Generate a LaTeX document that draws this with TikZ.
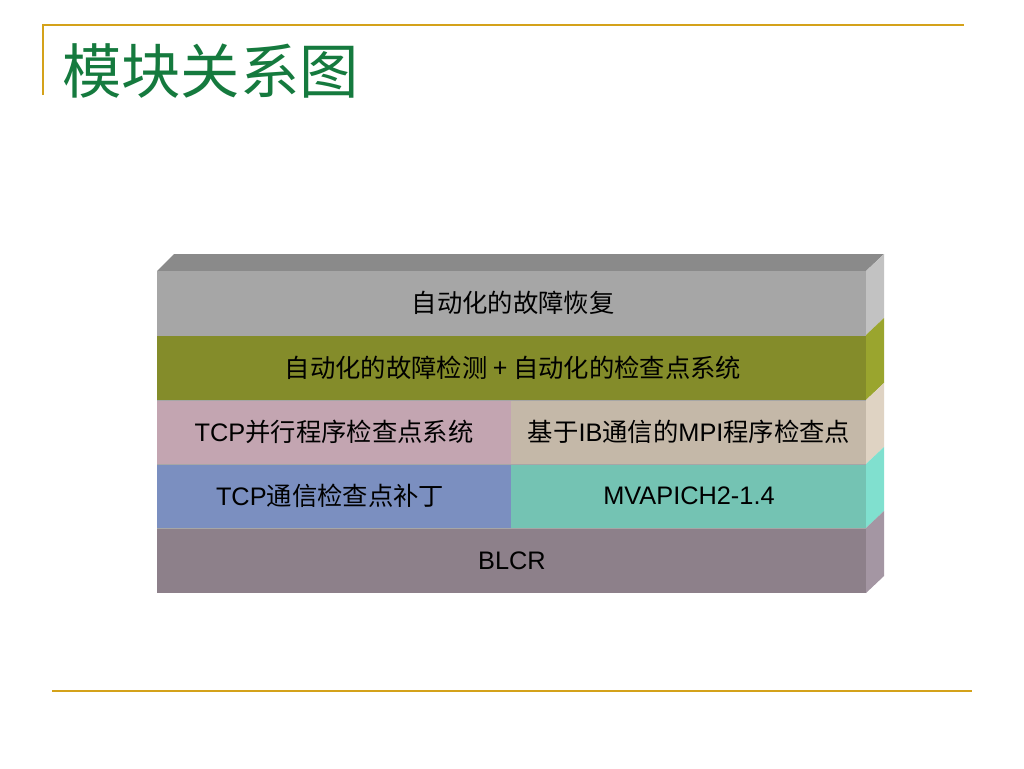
\documentclass[tikz,border=0pt]{standalone}
\usepackage{fontspec}
\setmainfont{Liberation Sans}
\newfontfamily\cjk{Noto Sans CJK SC}

\definecolor{rulegold}{HTML}{D4A21A}
\definecolor{titlegreen}{HTML}{157A3E}
\definecolor{topgray}{HTML}{8A8A8A}
\definecolor{recoverfront}{HTML}{A6A6A6}
\definecolor{recoverside}{HTML}{C2C2C2}
\definecolor{detectfront}{HTML}{848C2A}
\definecolor{detectside}{HTML}{9AA52E}
\definecolor{tcpckpt}{HTML}{C3A5B1}
\definecolor{mpickpt}{HTML}{C4B8A8}
\definecolor{ckptside}{HTML}{DFD3C3}
\definecolor{tcppatch}{HTML}{7B8FC0}
\definecolor{mvapich}{HTML}{74C3B3}
\definecolor{mvapichside}{HTML}{80E0CF}
\definecolor{blcrfront}{HTML}{8D808A}
\definecolor{blcrside}{HTML}{A496A3}

\begin{document}
\begin{tikzpicture}[
x=0.75pt,y=-0.75pt,
rule/.style={
  draw=rulegold,
  line width=1.5pt
  },
layertext/.style={
  font=\fontsize{19}{21}\selectfont,
  text=black,
  inner sep=0pt
  }
]
\useasboundingbox (0,0) rectangle (1024,768);
\fill[white] (0,0) rectangle (1024,768);
% header and footer rules
\draw[rule] (43,95) -- (43,25) -- (964,25);
\draw[rule] (52,691) -- (972,691);
\node[text=titlegreen,font=\cjk\fontsize{44.5}{47}\selectfont,anchor=west,inner sep=0pt] (title) at (62,71) {模块关系图};
% top face
\fill[topgray] (157,271) -- (174,254) -- (884,254) -- (866,271) -- cycle;
% side faces
\foreach \Top/\Bot/\Col in {271/335/recoverside,335/400/detectside,400/464/ckptside,464/528/mvapichside,528/593/blcrside}
  \fill[\Col] (866,\Top) -- (884,\Top-17) -- (884,\Bot-17) -- (866,\Bot) -- cycle;
% front faces
\fill[recoverfront] (157,271) rectangle (866,335);
\fill[detectfront] (157,335) rectangle (866,400);
\fill[tcpckpt] (157,400) rectangle (511,464);
\fill[mpickpt] (511,400) rectangle (866,464);
\fill[tcppatch] (157,464) rectangle (511,528);
\fill[mvapich] (511,464) rectangle (866,528);
\fill[blcrfront] (157,528) rectangle (866,593);
\foreach \Y in {335,400,464,528}
  \draw[black!35,line width=0.4pt] (157,\Y) -- (866,\Y);
% layer labels
\node[layertext] (recover) at (513,303) {\cjk 自动化的故障恢复};
\node[layertext] (detect) at (513,368) {\cjk 自动化的故障检测 + 自动化的检查点系统};
\node[layertext] (tcpsys) at (334,432) {TCP{\cjk 并行程序检查点系统}};
\node[layertext] (mpisys) at (689,432) {{\cjk 基于}IB{\cjk 通信的}MPI{\cjk 程序检查点}};
\node[layertext] (patch) at (330,496) {TCP{\cjk 通信检查点补丁}};
\node[layertext] (mvapich2) at (689,496) {MVAPICH2-1.4};
\node[layertext] (blcr) at (512,561) {BLCR};
\end{tikzpicture}
\end{document}
